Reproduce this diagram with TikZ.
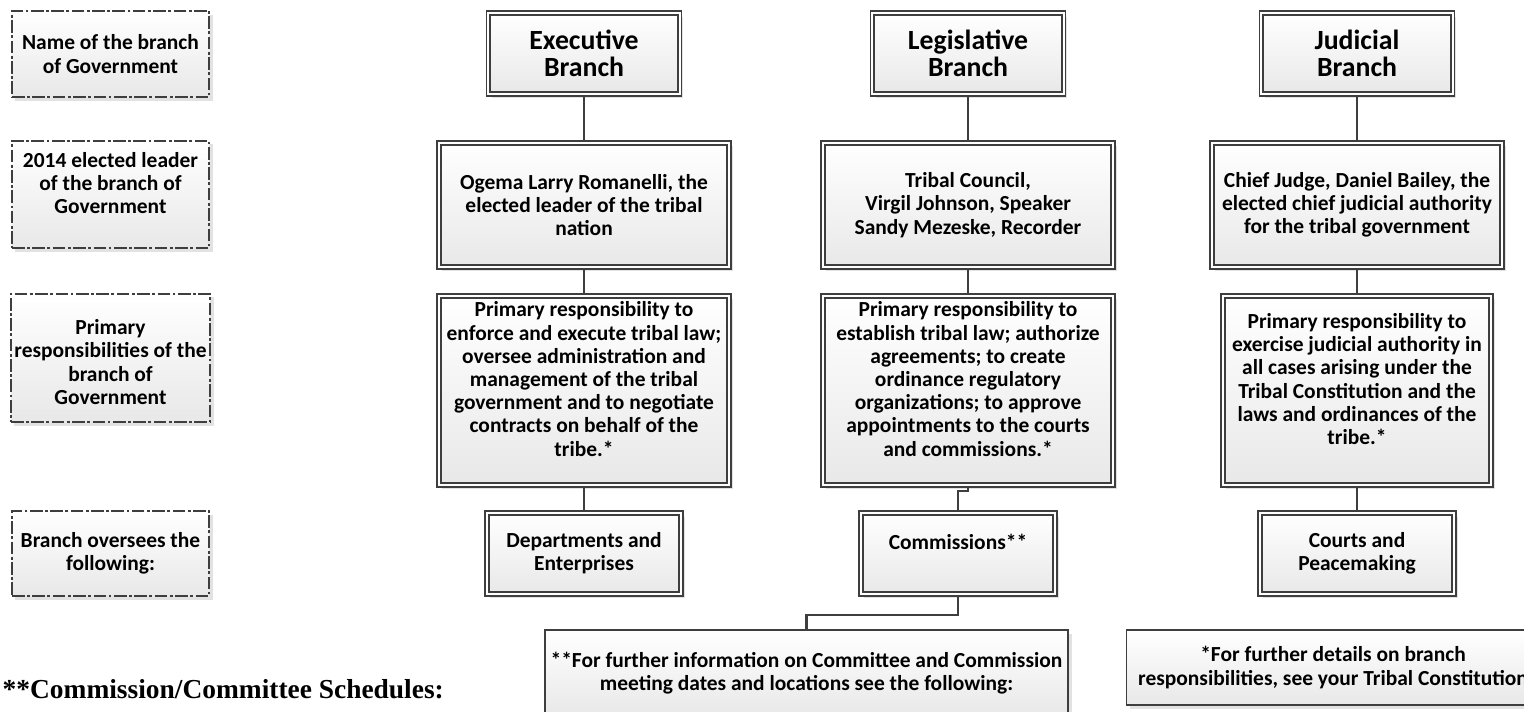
\documentclass[tikz,border=0pt]{standalone}
\usepackage{fontspec}
\setmainfont{Carlito}
\newfontfamily\schedfont{Liberation Serif}
\usetikzlibrary{shadows}
\definecolor{boxline}{RGB}{62,62,62}
\definecolor{boxfill}{RGB}{232,232,232}

\begin{document}
\begin{tikzpicture}[x=0.01cm,y=-0.01cm,
  base/.style={align=center,top color=white,bottom color=boxfill,inner sep=1pt,
    font=\fontsize{6.1}{6.6}\selectfont\bfseries,
    drop shadow={shadow xshift=1pt,shadow yshift=-1pt,opacity=0.25,fill=black!45}},
  legend/.style={base,draw=boxline,line width=0.5pt,
    dash pattern=on 3.6pt off 0.7pt on 0.8pt off 0.7pt,minimum width=1.97cm},
  branch/.style={base,draw=boxline,line width=0.55pt,double=white,double distance=0.55pt},
  title/.style={branch,minimum width=1.91cm,minimum height=0.81cm,
    font=\fontsize{7.9}{7.8}\selectfont\bfseries},
  leader/.style={branch,minimum width=2.90cm,minimum height=1.24cm},
  resp/.style={branch,minimum width=2.90cm,minimum height=1.89cm},
  sub/.style={branch,minimum width=1.94cm,minimum height=0.81cm},
  note/.style={base,draw=boxline,line width=0.5pt,inner xsep=0pt},
  conn/.style={draw=boxline,line width=0.6pt}]

\useasboundingbox (0,0) rectangle (1524,711);

\node[legend,minimum height=0.86cm] (keyname) at (110.5,54) {Name of the branch\\of Government};
\node[legend,minimum height=1.07cm] (keyleader) at (110.5,194.5) {2014 elected leader\\of the branch of\\Government\\\mbox{}};
\node[legend,minimum height=1.28cm] (keyresp) at (110.5,358) {\mbox{}\\Primary\\responsibilities of the\\branch of\\Government};
\node[legend,minimum height=0.85cm] (keysub) at (110.5,553.5) {Branch oversees the\\following:};

\node[title] (titleE) at (584,53.5) {Executive\\Branch};
\node[leader] (leaderE) at (584,205) {Ogema Larry Romanelli, the\\elected leader of the tribal\\nation};
\node[resp] (respE) at (584,390.5) {Primary responsibility to\\enforce and execute tribal law;\\oversee administration and\\management of the tribal\\government and to negotiate\\contracts on behalf of the\\tribe.*\\\mbox{}};
\node[sub] (subE) at (584,553.5) {Departments and\\Enterprises};

\node[title] (titleL) at (968,53.5) {Legislative\\Branch};
\node[leader] (leaderL) at (968,205) {Tribal Council,\\Virgil Johnson, Speaker\\Sandy Mezeske, Recorder};
\node[resp] (respL) at (968,390.5) {Primary responsibility to\\establish tribal law; authorize\\agreements; to create\\ordinance regulatory\\organizations; to approve\\appointments to the courts\\and commissions.*\\\mbox{}};
\node[sub] (subL) at (958,553.5) {Commissions**\\\mbox{}};

\node[title] (titleJ) at (1357,53.5) {Judicial\\Branch};
\node[leader] (leaderJ) at (1357,205) {Chief Judge, Daniel Bailey, the\\elected chief judicial authority\\for the tribal government};
\node[resp,minimum width=2.68cm] (respJ) at (1357,390.5) {Primary responsibility to\\exercise judicial authority in\\all cases arising under the\\Tribal Constitution and the\\laws and ordinances of the\\tribe.*\\\mbox{}};
\node[sub] (subJ) at (1357,553.5) {Courts and\\Peacemaking};

\node[note,minimum width=5.23cm,minimum height=0.86cm] (noteL) at (806.5,673)
  {**For further information on Committee and Commission\\meeting dates and locations see the following:};
\node[note,minimum width=4.13cm,minimum height=0.75cm] (noteJ) at (1333,667.5)
  {*For further details on branch\\responsibilities, see your Tribal Constitution};

\node[anchor=base west,inner sep=0pt,font=\schedfont\fontsize{7.8}{9}\selectfont\bfseries] (sched) at (2,698)
  {**Commission/Committee Schedules:};

\foreach \c in {E,L,J}
{
\draw[conn] (title\c.south) -- (leader\c.north);
\draw[conn] (leader\c.south) -- (resp\c.north);
}
\draw[conn] (respE.south) -- (subE.north);
\draw[conn] (respJ.south) -- (subJ.north);
\draw[conn] (respL.south) -- ++(0,5) -| (subL.north);
\draw[conn] (subL.south) -- ++(0,20) -| (noteL.north);
\end{tikzpicture}
\end{document}
